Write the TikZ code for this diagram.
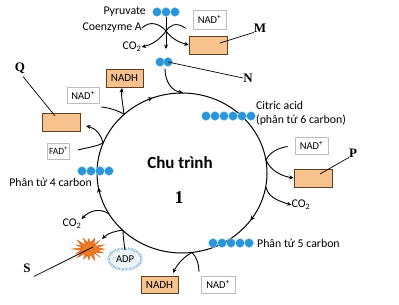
\documentclass[tikz,border=0pt]{standalone}
\usepackage{fontspec}
\setmainfont{Carlito}
\newfontfamily\lblfont{Liberation Serif}
\usetikzlibrary{arrows.meta,shapes.geometric,decorations.markings}
\definecolor{dotblue}{HTML}{2A96D8}
\definecolor{orfill}{HTML}{F8C28E}
\definecolor{ordraw}{HTML}{5C4024}
\definecolor{nadgray}{HTML}{BDBDBD}
\definecolor{burstfill}{HTML}{F07A22}
\definecolor{burstdraw}{HTML}{D85E12}
\definecolor{adpfill}{HTML}{EEF4F8}
\definecolor{adpfringe}{HTML}{6FA8C8}
\begin{document}
\begin{tikzpicture}[x=1pt,y=-1pt,
  tip/.style={-{Stealth[length=4.5pt,width=4pt]}},
  flow/.style={line width=0.9pt},
  bdot/.style={circle, fill=dotblue, draw=white!60!dotblue, line width=0.3pt, inner sep=0pt, minimum size=9pt},
  nadbox/.style={draw=nadgray, fill=white, line width=0.7pt, inner sep=0pt, font=\fontsize{10.5}{12}\selectfont},
  orbox/.style={draw=ordraw, fill=orfill, line width=0.7pt, inner sep=0pt, font=\fontsize{11}{12}\selectfont},
  txt/.style={inner sep=0pt, font=\fontsize{11.8}{14}\selectfont},
  lbl/.style={inner sep=0pt, font=\lblfont\bfseries\fontsize{13}{14}\selectfont},
  lblline/.style={line width=0.7pt}
]
\useasboundingbox (0,0) rectangle (399,305);

% ---- cycle ----
\coordinate (O) at (182,173);
\draw[line width=1pt, postaction={decorate}, decoration={markings,
   mark=at position 0.099 with {\arrow{Stealth[length=5pt,width=4.5pt]}},
   mark=at position 0.472 with {\arrow{Stealth[length=5pt,width=4.5pt]}},
   mark=at position 0.693 with {\arrow{Stealth[length=5pt,width=4.5pt]}}}]
   (O) ellipse (85 and 80);
\node[inner sep=0pt, font=\bfseries\fontsize{17}{18}\selectfont] (title) at (180,163) {Chu trình};
\node[inner sep=0pt, font=\lblfont\bfseries\fontsize{18}{18}\selectfont] (one) at (179,198) {1};

% points on the cycle
\coordinate (cNL) at (124,114);
\coordinate (cFAD) at (103,143);
\coordinate (cCO2L) at (109,214);
\coordinate (cADP) at (123,230);
\coordinate (cBot) at (192,252.5);
\coordinate (cR1) at (266,160);
\coordinate (cCO2R) at (266,187);
\coordinate (cTop) at (183,92.5);

% ---- top: pyruvate -> acetyl ----
\node[txt, anchor=east] (pyr) at (146,12) {Pyruvate};
\foreach \x [count=\i] in {157,166,175} \node[bdot] (p\i) at (\x,12) {};
\node[txt, anchor=east] (coa) at (142,28) {Coenzyme A};
\node[txt] (co2t) at (132,47) {CO\textsubscript{2}};
\node[nadbox, minimum width=33pt, minimum height=19pt] (nadT) at (209.5,19.5) {NAD\textsuperscript{+}};
\node[orbox, minimum width=38pt, minimum height=18pt] (boxM) at (208,45) {};
\coordinate (vtop) at (166,17);
\coordinate (vbot) at (166,49);
\draw[flow, tip] (vtop) -- (vbot);
\coordinate (cross) at (166,31);
\draw[flow, tip] (coa.east) .. controls (150,20) and (160,24) .. (cross) .. controls (171,38) and (178,42) .. (boxM.west);
\draw[flow, tip] (nadT.south west) ++(-7,-1) coordinate (nadTin)
  (nadTin) .. controls (176,21) and (169,26) .. (cross) .. controls (161,38) and (154,44) .. (co2t.east);
\node[bdot] (a1) at (160,62) {};
\node[bdot] (a2) at (168,62) {};
\draw[flow, tip] (a1.south) ++(5,2) coordinate (acst) (acst) .. controls (165,82) and (172,91) .. (cTop);
\node[lbl] (M) at (260,28) {M};
\node[lbl] (N) at (248,78) {N};
\coordinate (Min) at (220,43);
\draw[lblline] (Min) -- (M.south west);
\draw[lblline] (a2.center) -- (N.west);

% ---- citric acid ----
\foreach \x [count=\i] in {206,215,224,233,242,251} \node[bdot] (ci\i) at (\x,116) {};
\node[txt, anchor=west] (cit1) at (256,105) {Citric acid};
\node[txt, anchor=west] (cit2) at (256,120) {(phân tử 6 carbon)};

% ---- right: NAD+ -> P, CO2 ----
\node[nadbox, minimum width=33pt, minimum height=17pt] (nadR) at (311.5,145.5) {NAD\textsuperscript{+}};
\node[orbox, minimum width=38pt, minimum height=18pt] (boxP) at (313,178) {};
\draw[flow] (nadR.west) ++(-7,1) coordinate (nadRin) (nadRin) .. controls (278,148) and (270,152) .. (cR1);
\draw[flow, tip] (cR1) .. controls (270,170) and (281,176) .. (boxP.west);
\node[txt] (co2r) at (301,205) {CO\textsubscript{2}};
\draw[flow, tip] (cCO2R) .. controls (268,196) and (275,200) .. (co2r.west);
\node[lbl] (P) at (353,153) {P};
\coordinate (Pin) at (320,174);
\draw[lblline] (Pin) -- (P.south west);

% ---- 5 carbon ----
\foreach \x [count=\i] in {213,222,231,240,249} \node[bdot] (f\i) at (\x,243) {};
\node[txt, anchor=west] (c5) at (257,243) {Phân tử 5 carbon};

% ---- bottom: NAD+ -> NADH ----
\node[nadbox, minimum width=34pt, minimum height=17pt] (nadB) at (218,284.5) {NAD\textsuperscript{+}};
\node[orbox, minimum width=37pt, minimum height=17pt] (nadhB) at (159.5,284.5) {NADH};
\draw[flow] (nadB.north) ++(-19,-4) coordinate (nadBin) (nadBin) .. controls (199,264) and (196,256) .. (cBot);
\draw[flow, tip] (cBot) .. controls (185,256) and (178,263) .. (173,273);

% ---- ADP -> ATP (burst) ----
\draw[adpfringe, line width=2.6pt, dash pattern=on 0.5pt off 0.9pt] (125,259) ellipse (16.5 and 10.5);
\node[ellipse, fill=adpfill, draw=adpfill, inner sep=0pt, minimum width=29pt, minimum height=17pt, font=\fontsize{10.5}{12}\selectfont] (adp) at (125,259) {ADP};
\fill[burstfill, draw=burstdraw, line width=0.4pt]
  plot[samples at={0,...,31}, variable=\k] ({89+(11.5+4*cos(\k*180)+1.5*sin(\k*97))*cos(\k*360/32)}, {249+(8.5+3*cos(\k*180)+1*sin(\k*131))*sin(\k*360/32)}) -- cycle;
\coordinate (burst) at (93,247);
\draw[flow] (adp.north) .. controls (124,243) and (123,236) .. (cADP);
\draw[flow, tip] (cADP) .. controls (116,231) and (108,233) .. (102,239);
\node[lbl] (S) at (27,268) {S};
\draw[lblline] (S.south east) ++(3,4) coordinate (Sst) (Sst) -- (burst);

% ---- left CO2 ----
\node[txt] (co2l) at (72,224) {CO\textsubscript{2}};
\draw[flow, tip] (cCO2L) .. controls (101,208) and (90,210) .. (co2l.north east);

% ---- 4 carbon ----
\foreach \x [count=\i] in {82,91,100,109} \node[bdot] (g\i) at (\x,171) {};
\node[txt, anchor=east] (c4) at (92,182) {Phân tử 4 carbon};

% ---- FAD+ -> Q ----
\node[nadbox, minimum width=22pt, minimum height=16pt, font=\fontsize{9.5}{10}\selectfont] (fad) at (58.5,151) {FAD\textsuperscript{+}};
\node[orbox, minimum width=38pt, minimum height=18pt] (boxQ) at (61,122) {};
\draw[flow] (fad.east) ++(8,-1) coordinate (fadin) (fadin) .. controls (90,147) and (98,146) .. (cFAD);
\draw[flow, tip] (cFAD) .. controls (101,134) and (95,128) .. (86,126);
\node[lbl] (Q) at (20,68) {Q};
\coordinate (Qin) at (55,116);
\draw[lblline] (Q.south) ++(3,3) coordinate (Qst) (Qst) -- (Qin);

% ---- NAD+ -> NADH (left top) ----
\node[nadbox, minimum width=32pt, minimum height=16pt] (nadL) at (83,95) {NAD\textsuperscript{+}};
\node[orbox, minimum width=37pt, minimum height=18pt] (nadhL) at (124.5,78) {NADH};
\draw[flow] (nadL.east) ++(2,12) coordinate (nadLin) (nadLin) .. controls (112,108) and (120,112) .. (cNL);
\draw[flow, tip] (cNL) .. controls (123,105) and (121,96) .. (122,88);
\end{tikzpicture}
\end{document}
